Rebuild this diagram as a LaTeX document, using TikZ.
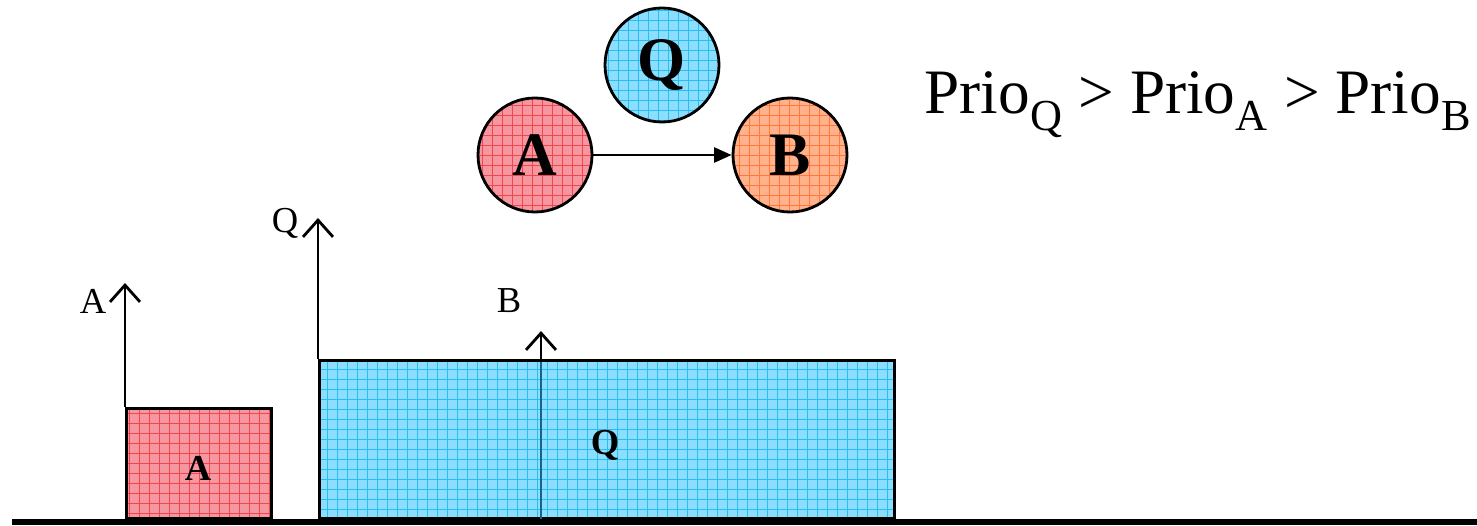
\documentclass[tikz,border=0pt]{standalone}
\usepackage{fontspec}
\setmainfont{Liberation Serif}
\usetikzlibrary{arrows.meta}
\definecolor{redfill}{RGB}{246,150,158}
\definecolor{redline}{RGB}{240,70,80}
\definecolor{bluefill}{RGB}{140,222,255}
\definecolor{blueline}{RGB}{40,190,240}
\definecolor{orangefill}{RGB}{255,178,140}
\definecolor{orangeline}{RGB}{255,120,60}
\definecolor{tealline}{RGB}{20,100,140}
\tikzset{
  gridfill/.style 2 args={fill=#1,path picture={
      \draw[#2,line width=.6pt,step=0.25cm]
        (path picture bounding box.south west) grid (path picture bounding box.north east);}},
  task/.style={circle,draw,line width=2pt,minimum size=2.85cm,inner sep=0pt,
    font=\fontsize{44}{48}\selectfont\bfseries},
  jobbox/.style={draw,line width=2.2pt,inner sep=0pt,anchor=south west,
    font=\fontsize{26}{30}\selectfont\bfseries},
  release/.style={-{Straight Barb[length=4.2mm,width=7.5mm]},line width=2pt},
  axlabel/.style={font=\fontsize{26}{30}\selectfont},
  prec/.style={-{Triangle[length=4.4mm,width=3.8mm]},line width=1.5pt}
}

\begin{document}
\begin{tikzpicture}[x=1cm,y=1cm]
  \useasboundingbox (0,0) rectangle (36.925,13.125);

  % --- graphe des taches ---
  \node[task,gridfill={redfill}{redline}] (tA) at (13.375,9.25) {A};
  \node[task,gridfill={bluefill}{blueline}] (tQ) at (16.55,11.5) {Q};
  \node[task,gridfill={orangefill}{orangeline}] (tB) at (19.75,9.25) {B};
  \draw[prec] (tA)--(tB);

  \node[font=\fontsize{45}{50}\selectfont] (prio) at (29.95,10.5)
    {Prio\textsubscript{Q} > Prio\textsubscript{A} > Prio\textsubscript{B}};

  % --- chronogramme ---
  \node[jobbox,gridfill={redfill}{redline},minimum width=3.625cm,minimum height=2.75cm]
    (jA) at (3.125,0.125) {};
  \node[jobbox,gridfill={bluefill}{blueline},minimum width=14.375cm,minimum height=3.95cm]
    (jQ) at (7.95,0.125) {};
  \node[font=\fontsize{26}{30}\selectfont\bfseries] (lA) at (4.95,1.425) {A};
  \node[font=\fontsize{26}{30}\selectfont\bfseries] (lQ) at (15.125,2.0) {Q};

  \coordinate (rB) at (13.525,0.125);
  \coordinate (rBtop) at (13.525,4.075);
  \coordinate (aA) at (3.125,6.05);
  \coordinate (aQ) at (7.95,7.675);
  \coordinate (aB) at (13.525,4.85);

  \draw[tealline,line width=2pt] (rB)--(rBtop);
  \draw[release] (jA.north west)--(aA);
  \draw[release] (jQ.north west)--(aQ);
  \draw[release] (rBtop)--(aB);

  \node[axlabel] (nA) at (2.325,5.6) {A};
  \node[axlabel] (nQ) at (7.125,7.55) {Q};
  \node[axlabel] (nB) at (12.725,5.6) {B};

  \coordinate (t0) at (0.3,0.075);
  \coordinate (t1) at (36.925,0.075);
  \draw[line width=4.4pt] (t0)--(t1);

\end{tikzpicture}
\end{document}
